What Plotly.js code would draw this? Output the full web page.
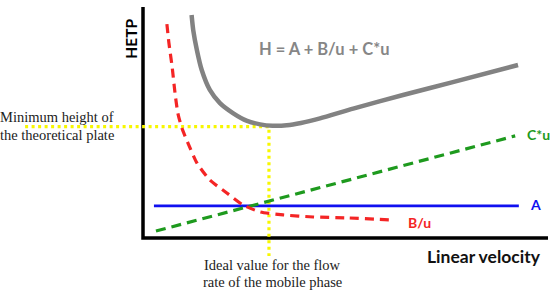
<!DOCTYPE html>
<html>
<head>
<meta charset="utf-8">
<script src="https://cdn.plot.ly/plotly-3.0.1.min.js"></script>
<style>html,body{margin:0;padding:0;background:#fff;}#chart{width:558px;height:296px;}</style>
</head>
<body>
<div id="chart"></div>
<script>
// ---- Data (u = linear velocity, H = plate height) ----
const totalU = [1.20, 1.24, 1.33, 1.45, 1.65, 1.90, 2.22, 2.57, 2.89, 3.20, 3.55, 3.90, 4.37, 5.19, 6.42, 7.65, 9.26];
const totalH = [9.65, 9.00, 8.14, 7.27, 6.41, 5.84, 5.41, 5.07, 4.92, 4.86, 4.88, 4.98, 5.18, 5.60, 6.19, 6.75, 7.49];

const bU = [0.59, 0.64, 0.72, 0.79, 0.86, 0.96, 1.11, 1.33, 1.65, 2.07, 2.47, 2.89, 3.46, 4.20, 5.04, 6.17];
const bH = [9.26, 8.44, 7.40, 6.28, 5.41, 4.76, 4.11, 3.25, 2.51, 1.95, 1.43, 1.13, 1.00, 0.91, 0.87, 0.78];

const aU = [0.27, 9.28];
const aH = [1.39, 1.39];

const cU = [0.32, 4.75, 9.19];
const cH = [0.30, 2.36, 4.42];

const optU = 3.11;   // ideal flow rate
const minH = 4.82;   // minimum plate height

const axisMaxU = 10, axisMaxH = 10;

const titleText = 'H = A + B/u + C*u';
const yTitleText = 'HETP';
const xTitleText = 'Linear velocity';
const termLabels = ['A', 'B/u', 'C*u'];
const minNoteLines = ['Minimum height of', 'the theoretical plate'];
const optNoteLines = ['Ideal value for the flow', 'rate of the mobile phase'];

// ---- Figure ----
const pxPerU = 40.5, pxPerH = 23.1, originX = 143, originY = 238, W = 558, H = 296;
const xRange = [-originX / pxPerU, (W - originX) / pxPerU];
const yRange = [-(H - originY) / pxPerH, originY / pxPerH];

const traces = [
  {x: [0, 0, axisMaxU], y: [axisMaxH, 0, 0], mode: 'lines', line: {color: '#000', width: 3.5}, hoverinfo: 'skip'},
  {x: [xRange[0] + 0.62, optU, optU], y: [minH, minH, yRange[0] + 1.73], mode: 'lines',
   line: {color: '#f7f700', width: 3.2, dash: '3px,3.5px'}, hoverinfo: 'skip'},
  {x: aU, y: aH, mode: 'lines', line: {color: '#1010f0', width: 2.6}},
  {x: cU, y: cH, mode: 'lines', line: {color: '#1e9a1e', width: 3.2, dash: '10px,6px'}},
  {x: bU, y: bH, mode: 'lines', line: {color: '#f42525', width: 3.2, dash: '9px,6px', shape: 'spline', smoothing: 0.6}},
  {x: totalU, y: totalH, mode: 'lines', line: {color: '#828282', width: 4.5, shape: 'spline', smoothing: 0.6}}
];

const sans = 'Lato, "Open Sans", sans-serif';
const serif = '"Liberation Serif", "DejaVu Serif", serif';
const noteFont = {family: serif, size: 14.5, color: '#222'};

const annotations = [
  {x: 4.49, y: 8.18, text: titleText, font: {family: sans, size: 16.5, color: '#868686', weight: 'bold'}},
  {x: -0.30, y: 8.62, text: yTitleText, textangle: -90, font: {family: sans, size: 15.5, color: '#000', weight: 'bold'}},
  {x: 8.42, y: -0.82, text: xTitleText, font: {family: sans, size: 17.5, color: '#111', weight: 'bold'}},
  {x: 9.42, y: 4.50, text: termLabels[2], xanchor: 'left', font: {family: sans, size: 14, color: '#1e9a1e', weight: 'bold'}},
  {x: 9.50, y: 1.43, text: termLabels[0], xanchor: 'left', font: {family: sans, size: 14, color: '#1010f0', weight: 'bold'}},
  {x: 6.50, y: 0.67, text: termLabels[1], xanchor: 'left', font: {family: sans, size: 14, color: '#f42525', weight: 'bold'}},
  {x: -0.66, y: 5.22, text: minNoteLines[0], xanchor: 'right', font: noteFont},
  {x: -0.66, y: 4.48, text: minNoteLines[1], xanchor: 'right', font: noteFont},
  {x: 3.19, y: -1.17, text: optNoteLines[0], font: noteFont},
  {x: 3.19, y: -1.91, text: optNoteLines[1], font: noteFont}
].map(a => Object.assign({xref: 'x', yref: 'y', showarrow: false}, a));

const layout = {
  width: W, height: H,
  margin: {l: 0, r: 0, t: 0, b: 0},
  paper_bgcolor: '#fff', plot_bgcolor: '#fff',
  showlegend: false,
  xaxis: {range: xRange, visible: false, fixedrange: true},
  yaxis: {range: yRange, visible: false, fixedrange: true},
  annotations: annotations
};

Plotly.newPlot('chart', traces, layout, {staticPlot: true});
</script>
</body>
</html>
